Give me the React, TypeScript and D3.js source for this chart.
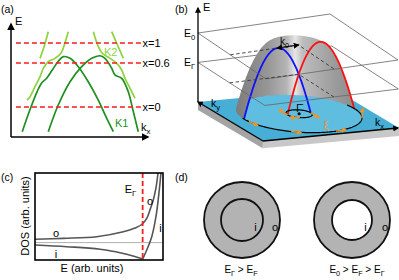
import React from 'react';
import * as d3 from 'd3';

type Pt = [number, number];

// ---------- (a) band dispersions, [k, E] in arbitrary units (0..10)
const k1Left: Pt[] = [
  [0.82, 0.47], [1.35, 2.3], [1.9, 4.0], [2.24, 4.78], [2.6, 5.2], [3.0, 5.9],
  [3.45, 6.7], [3.82, 7.11], [4.31, 6.96], [4.91, 6.22], [5.64, 4.89],
  [6.37, 3.27], [6.99, 1.65], [7.47, 0.47],
];
const k1Right: Pt[] = [
  [2.72, 0.47], [3.45, 2.83], [4.31, 4.89], [5.16, 6.22], [5.89, 6.96],
  [6.5, 7.19], [6.86, 6.96], [7.35, 6.08], [7.59, 5.49], [8.08, 5.19],
  [8.56, 4.01], [8.9, 2.39], [9.29, 0.47],
];
const k2Left: Pt[] = [
  [4.18, 9.32], [3.89, 8.14], [3.65, 7.41], [3.21, 6.96], [2.72, 6.66],
  [2.36, 6.08], [2.12, 5.34], [1.75, 4.45], [1.39, 3.57], [1.17, 3.27],
];
const k2LeftUpper: Pt[] = [[2.72, 9.32], [2.45, 8.14], [2.12, 6.96]];
const k2Right: Pt[] = [
  [6.01, 9.32], [6.33, 8.14], [6.66, 7.41], [7.23, 6.96], [7.72, 6.51],
  [8.08, 5.93], [8.32, 5.19], [8.69, 4.31], [9.05, 3.42],
];
const k2RightUpper: Pt[] = [[7.35, 9.32], [7.77, 8.14], [8.2, 6.96]];
const dopingE = [8.32, 6.55, 2.65];
const dopingLabels = ['x=1', 'x=0.6', 'x=0'];

// ---------- (b) Rashba-split dome
const topE = 69;          // E0 level
const kZero = 0.16;       // k0 offset of the two parabolas
const footHalf = 0.245;   // half width of a parabola at the base
const innerSpinAngles = [180, 115, 0];
const outerSpinAngles = [172, 126, 83, 30];

// ---------- (c) density of states, [E, DOS] in arbitrary units (0..10)
const dosOuter: Pt[] = [
  [0, 2.38], [2.21, 2.49], [4.82, 2.68], [6.9, 3.25], [7.81, 3.68], [8.34, 4.08],
  [8.73, 4.79], [8.98, 5.75], [9.24, 6.9], [9.45, 8.28], [9.61, 10],
];
const dosInnerLow: Pt[] = [[0, 1.72], [2.48, 1.53], [5.08, 1.23], [6.64, 0.84], [7.66, 0.46], [8.41, 0.11]];
const dosInnerHigh: Pt[] = [[8.41, 0.11], [8.73, 1.15], [9.12, 2.68], [9.45, 4.98], [9.71, 8.05], [9.84, 10]];
const dosReference = 2.0;
const eGamma = 8.41;

// ---------- (d) Fermi-surface sketches
const ringCaptions: [string, string][][] = [
  [['E', 'Γ'], [' > E', 'F']],
  [['E', '0'], [' > E', 'F'], [' > E', 'Γ']],
];
const innerFilled = [true, false];

const FONT = "'Liberation Sans', Arial, sans-serif";
const ORANGE = '#f7931e';

function SubText({ x, y, parts, size = 11, anchor = 'start', fill = '#000' }: any) {
  return (
    <text x={x} y={y} fontSize={size} textAnchor={anchor} fill={fill}>
      {parts.map(([m, s]: [string, string], i: number) => (
        <React.Fragment key={i}>
          <tspan dy={i > 0 && parts[i - 1][1] ? -2.5 : 0}>{m}</tspan>
          {s ? <tspan fontSize={size * 0.72} dy={2.5}>{s}</tspan> : null}
        </React.Fragment>
      ))}
    </text>
  );
}

function PanelA() {
  const kx = d3.scaleLinear().domain([0, 10]).range([11, 148]);
  const en = d3.scaleLinear().domain([0, 10]).range([137, 24]);
  const band = d3.line<Pt>().x(d => kx(d[0])).y(d => en(d[1])).curve(d3.curveCatmullRom.alpha(0.5));
  const dark = '#1f8f1f';
  const light = '#8ed33f';
  return (
    <g>
      <text x={1} y={13} fontSize={10.5}>(a)</text>
      {[k2Left, k2LeftUpper, k2Right, k2RightUpper].map((b, i) => (
        <path key={'l' + i} d={band(b) || ''} fill="none" stroke={light} strokeWidth={1.7} />
      ))}
      {[k1Left, k1Right].map((b, i) => (
        <path key={'d' + i} d={band(b) || ''} fill="none" stroke={dark} strokeWidth={1.7} />
      ))}
      {dopingE.map((e, i) => (
        <g key={i}>
          <line x1={kx(0.36)} x2={kx(9.56)} y1={en(e)} y2={en(e)} stroke="#ff1a1a" strokeWidth={1.6} strokeDasharray="5,3" />
          <text x={kx(9.6)} y={en(e) + 4} fontSize={11}>{dopingLabels[i]}</text>
        </g>
      ))}
      <line x1={kx(0)} y1={en(0)} x2={kx(0)} y2={en(10)} stroke="#000" strokeWidth={1.5} markerEnd="url(#ah)" />
      <line x1={kx(0)} y1={en(0)} x2={kx(10)} y2={en(0)} stroke="#000" strokeWidth={1.5} markerEnd="url(#ah)" />
      <text x={15} y={25} fontSize={11}>E</text>
      <SubText x={141} y={131} parts={[['k', 'x']]} />
      <text x={104} y={56} fontSize={11} fill={light}>K2</text>
      <text x={115} y={127} fontSize={11} fill={dark}>K1</text>
    </g>
  );
}

function PanelB() {
  const curv = topE / (footHalf * footHalf);
  const gammaE = topE - curv * kZero * kZero;
  const rOut = footHalf + kZero;
  const rIn = footHalf - kZero;
  const ctr = { u: 0.517, v: 0.474 };
  const vStretch = 1.15;

  // oblique projection whose axes drift slightly with height (perspective)
  const exX = d3.scaleLinear().domain([0, topE]).range([136, 132]);
  const exY = d3.scaleLinear().domain([0, topE]).range([-13, -19]);
  const eyX = d3.scaleLinear().domain([0, topE]).range([65, 68]);
  const eyY = d3.scaleLinear().domain([0, topE]).range([39, 46]);
  const proj = (u: number, v: number, e: number): Pt => [
    198 + u * exX(e) + v * eyX(e),
    102 - e + u * exY(e) + v * eyY(e),
  ];
  const onRing = (r: number, phi: number, e: number): Pt =>
    proj(ctr.u + r * Math.cos(phi), ctr.v + vStretch * r * Math.sin(phi), e);
  const line = d3.line<Pt>();
  const closed = (pts: Pt[]) => (line(pts) || '') + 'Z';

  // dome silhouette: back half of the upper Rashba sheet
  const bins = new Map<number, [number, number]>();
  for (let i = 0; i <= 90; i++) {
    const rho = (rOut * i) / 90;
    const e = Math.max(0, topE - curv * (rho - kZero) ** 2);
    for (let j = 0; j <= 200; j++) {
      const phi = Math.PI + (Math.PI * j) / 200;
      const [x, y] = onRing(rho, phi, e);
      const key = Math.round(x);
      const b = bins.get(key);
      if (!b) bins.set(key, [y, y]);
      else { b[0] = Math.min(b[0], y); b[1] = Math.max(b[1], y); }
    }
  }
  const keys = Array.from(bins.keys()).sort((a, b) => a - b);
  const domePts: Pt[] = [
    ...keys.map(k => [k, bins.get(k)![0]] as Pt),
    ...keys.slice().reverse().map(k => [k, bins.get(k)![1]] as Pt),
  ];

  const band = (sign: number, from: number, to: number) =>
    d3.range(0, 61).map(i => {
      const k = from + ((to - from) * i) / 60;
      return proj(ctr.u + k, ctr.v, Math.max(0, topE - curv * (k + sign * kZero) ** 2));
    });
  const blueBand = band(1, -rOut, rIn);
  const redBand = band(-1, -rIn, rOut);

  const ring = (r: number, a0: number, a1: number) =>
    d3.range(0, 121).map(i => onRing(r, a0 + ((a1 - a0) * i) / 120, 0));

  const planeLevels = [topE, gammaE];
  const thick = -8;

  const spinArrow = (r: number, deg: number, dir: number, key: string) => {
    const phi = (deg * Math.PI) / 180;
    const p0 = onRing(r, phi, 0);
    const p1 = onRing(r, phi + dir * 0.01, 0);
    const dx = p1[0] - p0[0];
    const dy = p1[1] - p0[1];
    const n = Math.hypot(dx, dy) || 1;
    const len = 10;
    return (
      <line key={key} x1={p0[0]} y1={p0[1]} x2={p0[0] + (dx / n) * len} y2={p0[1] + (dy / n) * len}
        stroke={ORANGE} strokeWidth={1.4} markerEnd="url(#aho)" />
    );
  };

  const gam = proj(ctr.u, ctr.v, 0);
  const kA = proj(ctr.u - kZero, ctr.v, topE);
  const kB = proj(ctr.u, ctr.v, topE);

  return (
    <g>
      <defs>
        <linearGradient id="domeGrad" gradientUnits="userSpaceOnUse" x1={236} x2={362} y1={0} y2={0}>
          <stop offset="0" stopColor="#7c7c7c" />
          <stop offset="0.25" stopColor="#969696" />
          <stop offset="0.4" stopColor="#b4b4b4" />
          <stop offset="0.47" stopColor="#e6e6e6" />
          <stop offset="0.53" stopColor="#bdbdbd" />
          <stop offset="0.78" stopColor="#9c9c9c" />
          <stop offset="1" stopColor="#868686" />
        </linearGradient>
      </defs>
      <text x={175} y={13} fontSize={10.5}>(b)</text>

      {/* slab */}
      <path d={closed([proj(0, 0, 0), proj(0, 1, 0), proj(0, 1, thick), proj(0, 0, thick)])} fill="#a4a4a4" />
      <path d={closed([proj(0, 1, 0), proj(1, 1, 0), proj(1, 1, thick), proj(0, 1, thick)])} fill="#c8c8c8" />
      <path d={closed([proj(0, 0, 0), proj(1, 0, 0), proj(1, 1, 0), proj(0, 1, 0)])} fill="#47aed5" />
      <path d={closed(ring(rOut, 0, 2 * Math.PI))} fill="#5fbde0" />

      {/* back edges of the energy planes */}
      {planeLevels.map((e, i) => (
        <path key={'pb' + i} d={line([proj(0, 0, e), proj(1, 0, e), proj(1, 1, e)]) || ''}
          fill="none" stroke="#666" strokeWidth={0.8} />
      ))}

      <path d={closed(domePts)} fill="url(#domeGrad)" />

      <path d={line(blueBand) || ''} fill="none" stroke="#1010ff" strokeWidth={1.8} />
      <path d={line(redBand) || ''} fill="none" stroke="#ff1010" strokeWidth={1.8} />

      <path d={line(ring(rOut, -0.2, Math.PI + 0.05)) || ''} fill="none" stroke="#000" strokeWidth={1.2} />
      <path d={closed(ring(rIn, 0, 2 * Math.PI))} fill="none" stroke="#000" strokeWidth={1.2} />

      {/* front edges and guide lines of the energy planes */}
      {planeLevels.map((e, i) => (
        <g key={'pf' + i}>
          <path d={line([proj(1, 1, e), proj(0, 1, e), proj(0, 0, e)]) || ''} fill="none" stroke="#666" strokeWidth={0.8} />
          <path d={line([proj(0, ctr.v, e), proj(ctr.u, ctr.v, e), proj(ctr.u, 1, e)]) || ''}
            fill="none" stroke="#3a3a3a" strokeWidth={0.9} strokeDasharray="3.5,2.5" />
        </g>
      ))}

      {/* k axes */}
      <line x1={proj(0, 1, 0)[0]} y1={proj(0, 1, 0)[1]} x2={proj(0, 0, 0)[0]} y2={proj(0, 0, 0)[1]}
        stroke="#000" strokeWidth={1.3} markerEnd="url(#ahs)" />
      <line x1={proj(0, 1, 0)[0]} y1={proj(0, 1, 0)[1]} x2={proj(1, 1, 0)[0] - 1} y2={proj(1, 1, 0)[1]}
        stroke="#000" strokeWidth={1.3} markerEnd="url(#ahs)" />
      <line x1={198} y1={proj(0, 0, 0)[1]} x2={198} y2={8} stroke="#000" strokeWidth={1.3} markerEnd="url(#ahs)" />

      {innerSpinAngles.map((a, i) => spinArrow(rIn, a, 1, 'si' + i))}
      {outerSpinAngles.map((a, i) => spinArrow(rOut, a, -1, 'so' + i))}

      <circle cx={gam[0]} cy={gam[1]} r={1.6} fill="#000" />
      <text x={gam[0]} y={gam[1] - 1.5} fontSize={10} textAnchor="middle">Γ̄</text>
      <text x={326} y={129} fontSize={11} textAnchor="middle" fill={ORANGE}>ξ</text>

      <line x1={kA[0]} y1={kA[1]} x2={kB[0]} y2={kB[1]} stroke="#000" strokeWidth={1.1}
        markerStart="url(#ahs)" markerEnd="url(#ahs)" />
      <SubText x={280} y={45} size={10} parts={[['k', '0']]} />

      <text x={203} y={11} fontSize={11}>E</text>
      <SubText x={184} y={37} size={10.5} parts={[['E', '0']]} />
      <SubText x={184} y={proj(0, 0, gammaE)[1] + 4} size={10.5} parts={[['E', 'Γ']]} />
      <SubText x={211} y={107} size={10.5} parts={[['k', 'y']]} />
      <SubText x={375} y={126} size={10.5} parts={[['k', 'x']]} />
    </g>
  );
}

function PanelC() {
  const ex = d3.scaleLinear().domain([0, 10]).range([35, 163]);
  const dos = d3.scaleLinear().domain([0, 10]).range([260, 173]);
  const curve = d3.line<Pt>().x(d => ex(d[0])).y(d => dos(d[1])).curve(d3.curveMonotoneX);
  const steep = d3.line<Pt>().x(d => ex(d[0])).y(d => dos(d[1])).curve(d3.curveCatmullRom.alpha(0.5));
  return (
    <g>
      <defs>
        <clipPath id="dosClip">
          <rect x={ex(0)} y={dos(10)} width={ex(10) - ex(0)} height={dos(0) - dos(10)} />
        </clipPath>
      </defs>
      <text x={1} y={181} fontSize={10.5}>(c)</text>
      <g clipPath="url(#dosClip)">
        <line x1={ex(0)} x2={ex(10)} y1={dos(dosReference)} y2={dos(dosReference)} stroke="#b0b0b0" strokeWidth={1} />
        <path d={steep(dosOuter) || ''} fill="none" stroke="#555" strokeWidth={1.6} />
        <path d={curve(dosInnerLow) || ''} fill="none" stroke="#555" strokeWidth={1.6} />
        <path d={steep(dosInnerHigh) || ''} fill="none" stroke="#555" strokeWidth={1.6} />
        <line x1={ex(eGamma)} x2={ex(eGamma)} y1={dos(10)} y2={dos(0)} stroke="#ff1a1a" strokeWidth={1.8} strokeDasharray="5,3" />
      </g>
      <rect x={ex(0)} y={dos(10)} width={ex(10) - ex(0)} height={dos(0) - dos(10)} fill="none" stroke="#000" strokeWidth={1.6} />
      <SubText x={ex(eGamma) - 18} y={193} size={11} parts={[['E', 'Γ']]} />
      <text x={56} y={237} fontSize={11} textAnchor="middle">o</text>
      <text x={56} y={258} fontSize={11} textAnchor="middle">i</text>
      <text x={150} y={205} fontSize={11} textAnchor="middle">o</text>
      <text x={160.5} y={232} fontSize={11} textAnchor="middle">i</text>
      <text transform="translate(29,216) rotate(-90)" fontSize={11} textAnchor="middle">DOS (arb. units)</text>
      <text x={92} y={272} fontSize={11} textAnchor="middle">E (arb. units)</text>
    </g>
  );
}

function PanelD() {
  const cx = [242, 352];
  const cy = 220;
  return (
    <g>
      <text x={175} y={181} fontSize={10.5}>(d)</text>
      {cx.map((x, i) => (
        <g key={i}>
          <circle cx={x} cy={cy} r={38} fill="#b3b3b3" stroke="#111" strokeWidth={1.8} />
          <circle cx={x} cy={cy} r={i === 0 ? 21 : 20} fill={innerFilled[i] ? '#b3b3b3' : '#fff'} stroke="#111" strokeWidth={1.8} />
          <text x={x + 13.5} y={231} fontSize={11} textAnchor="middle">i</text>
          <text x={x + 33} y={231} fontSize={11} textAnchor="middle">o</text>
          <SubText x={x - 1 + (i === 0 ? 0 : 6)} y={273} size={10} anchor="middle" parts={ringCaptions[i]} />
        </g>
      ))}
    </g>
  );
}

export default function App() {
  return (
    <svg width={399} height={280} viewBox="0 0 399 280" fontFamily={FONT}
      style={{ position: 'absolute', left: 0, top: 0, background: '#fff' }}>
      <defs>
        <marker id="ah" viewBox="0 0 10 10" refX="8" refY="5" markerWidth="8" markerHeight="8"
          markerUnits="userSpaceOnUse" orient="auto-start-reverse">
          <path d="M0,0 L10,5 L0,10 z" fill="#000" />
        </marker>
        <marker id="ahs" viewBox="0 0 10 10" refX="8" refY="5" markerWidth="6" markerHeight="6"
          markerUnits="userSpaceOnUse" orient="auto-start-reverse">
          <path d="M0,0 L10,5 L0,10 z" fill="#000" />
        </marker>
        <marker id="aho" viewBox="0 0 10 10" refX="8" refY="5" markerWidth="5" markerHeight="5"
          markerUnits="userSpaceOnUse" orient="auto">
          <path d="M0,0 L10,5 L0,10 z" fill={ORANGE} />
        </marker>
      </defs>
      <PanelA />
      <PanelB />
      <PanelC />
      <PanelD />
    </svg>
  );
}
